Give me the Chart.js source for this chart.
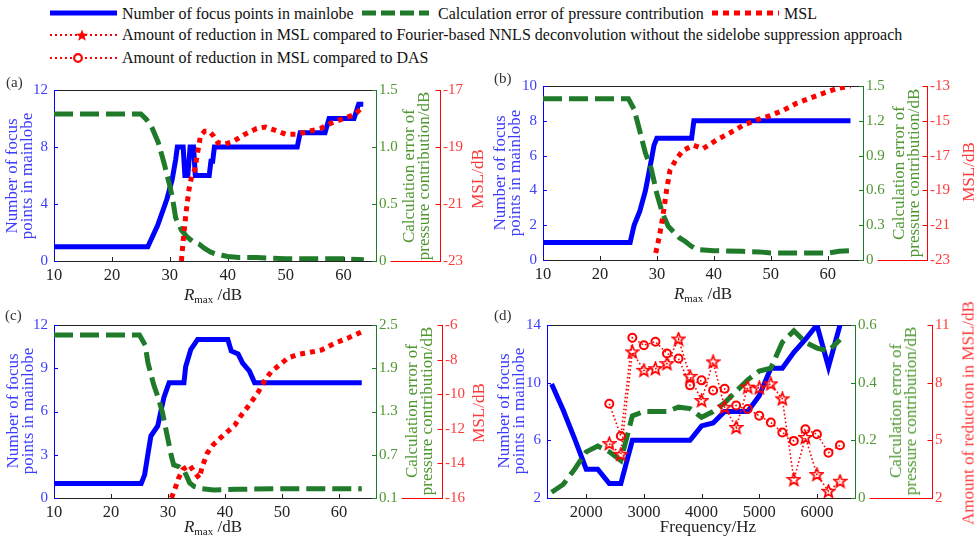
<!DOCTYPE html>
<html>
<head>
<meta charset="utf-8">
<script src="https://cdn.jsdelivr.net/npm/chart.js@4.4.1/dist/chart.umd.min.js"></script>
<style>
body { margin:0; background:#fff; width:976px; height:538px; position:relative; overflow:hidden; font-family:'Liberation Serif','Times New Roman',serif; }
canvas { position:absolute; }
.leg { position:absolute; font-size:16px; color:#111; transform:translateY(-50%); white-space:nowrap; }
.sw { position:absolute; }
.yt { position:absolute; font-size:17px; line-height:15px; text-align:center; white-space:nowrap; transform:translate(-50%,-50%) rotate(-90deg); }
.xt { position:absolute; font-size:17px; color:#222; white-space:nowrap; transform:translate(-50%,-50%); }
.xt sub { font-size:11px; vertical-align:-3px; }
.pl { position:absolute; font-size:15px; color:#333; }
.blue { color:#3c3cff; } .green { color:#4e9630; } .red { color:#ff3a3a; }
</style>
</head>
<body>

<!-- legend -->
<svg class="sw" style="left:50px;top:9px" width="67" height="8"><line x1="0" y1="4" x2="67" y2="4" stroke="#0000ff" stroke-width="5"/></svg>
<div class="leg" style="left:122px;top:14px">Number of focus points in mainlobe</div>
<svg class="sw" style="left:362px;top:9px" width="67" height="8"><line x1="0" y1="4" x2="67" y2="4" stroke="#1f7a2a" stroke-width="5" stroke-dasharray="14 5"/></svg>
<div class="leg" style="left:438px;top:14px">Calculation error of pressure contribution</div>
<svg class="sw" style="left:712px;top:9px" width="67" height="8"><line x1="0" y1="4" x2="67" y2="4" stroke="#ff0000" stroke-width="5" stroke-dasharray="6 5"/></svg>
<div class="leg" style="left:784px;top:14px">MSL</div>
<svg class="sw" style="left:50px;top:28px" width="67" height="14"><line x1="0" y1="7" x2="67" y2="7" stroke="#ff0000" stroke-width="1.8" stroke-dasharray="2 3"/><polygon points="32,1.5 33.6,5.6 38,5.8 34.6,8.5 35.8,12.7 32,10.3 28.2,12.7 29.4,8.5 26,5.8 30.4,5.6" fill="#ff0000"/></svg>
<div class="leg" style="left:122px;top:35px">Amount of reduction in MSL compared to Fourier-based NNLS deconvolution without the sidelobe suppression approach</div>
<svg class="sw" style="left:50px;top:51px" width="67" height="14"><line x1="0" y1="7" x2="67" y2="7" stroke="#ff0000" stroke-width="1.8" stroke-dasharray="2 3"/><circle cx="28" cy="7" r="3.8" fill="#fff" stroke="#ff0000" stroke-width="2.2"/></svg>
<div class="leg" style="left:122px;top:58px">Amount of reduction in MSL compared to DAS</div>

<canvas id="cA" width="490" height="230" style="left:0;top:80px"></canvas>
<canvas id="cB" width="486" height="230" style="left:490px;top:76px"></canvas>
<canvas id="cC" width="490" height="223" style="left:0;top:315px"></canvas>
<canvas id="cD" width="486" height="223" style="left:490px;top:315px"></canvas>

<div class="pl" style="left:6px;top:74px">(a)</div>
<div class="pl" style="left:494px;top:70px">(b)</div>
<div class="pl" style="left:5px;top:307px">(c)</div>
<div class="pl" style="left:494px;top:307px">(d)</div>

<div class="xt" style="left:213px;top:295px"><i>R</i><sub>max</sub> /dB</div>
<div class="xt" style="left:703px;top:294px"><i>R</i><sub>max</sub> /dB</div>
<div class="xt" style="left:213px;top:527px"><i>R</i><sub>max</sub> /dB</div>
<div class="xt" style="left:708px;top:527px">Frequency/Hz</div>

<div class="yt blue" style="left:19px;top:176px">Number of focus<br>points in mainlobe</div>
<div class="yt green" style="left:416px;top:176px">Calculation error of<br>pressure contribution/dB</div>
<div class="yt red" style="left:477px;top:179px">MSL/dB</div>

<div class="yt blue" style="left:507px;top:173px">Number of focus<br>points in mainlobe</div>
<div class="yt green" style="left:906px;top:173px">Calculation error of<br>pressure contribution/dB</div>
<div class="yt red" style="left:968px;top:172px">MSL/dB</div>

<div class="yt blue" style="left:20px;top:411px">Number of focus<br>points in mainlobe</div>
<div class="yt green" style="left:419px;top:411px">Calculation error of<br>pressure contribution/dB</div>
<div class="yt red" style="left:478px;top:413px">MSL/dB</div>

<div class="yt blue" style="left:511px;top:411px">Number of focus<br>points in mainlobe</div>
<div class="yt green" style="left:903px;top:411px">Calculation error of<br>pressure contribution/dB</div>
<div class="yt red" style="left:968px;top:413px">Amount of reduction in MSL/dB</div>

<script>
// ---- (a) ----
const focusA_x = [10, 26.2, 27.9, 29.5, 30.4, 31, 31.3, 32.3, 32.6, 33.1, 33.5, 34.1, 34.4, 36.8, 37.1, 37.4, 37.7, 52, 52.5, 56.8, 57.5, 61.8, 62.6, 63.4];
const focusA = [1, 1, 2.5, 4.35, 5.7, 7.1, 8, 8, 6, 6, 8, 8, 6, 6, 7, 7, 8, 8, 9, 9, 10, 10, 11, 11];
const errA_x = [10, 25, 26, 27, 28, 29, 30, 30.5, 31, 32, 33, 34, 35, 36, 37, 38, 39, 40, 42, 45, 50, 55, 60, 63.5];
const errA = [1.29, 1.29, 1.24, 1.16, 1.04, 0.86, 0.66, 0.54, 0.38, 0.27, 0.21, 0.17, 0.15, 0.11, 0.08, 0.06, 0.05, 0.04, 0.03, 0.03, 0.02, 0.02, 0.02, 0.01];
const mslA_x = [32, 32.3, 32.8, 33.3, 33.8, 34.3, 34.8, 35.3, 36, 36.8, 37.5, 38.3, 39.5, 41, 43, 45, 46.5, 48, 50, 52, 54, 56, 58, 60, 62, 63];
const mslA = [-23, -22.3, -21.3, -20.5, -20.0, -19.8, -19.2, -18.6, -18.45, -18.45, -18.6, -18.85, -18.9, -18.8, -18.55, -18.35, -18.3, -18.4, -18.55, -18.55, -18.45, -18.35, -18.15, -18.0, -17.85, -17.65];

// ---- (b) ----
const focusB_x = [10, 25.3, 26, 27, 28, 29, 29.5, 30, 36.1, 36.5, 64];
const focusB = [1, 1, 2, 2.8, 4, 5.7, 6.6, 7, 7, 8, 8];
const errB_x = [10, 25, 26, 27, 28, 29, 30, 31, 32, 33, 34, 35, 36, 37, 40, 45, 48, 50, 55, 60, 62, 64];
const errB = [1.39, 1.39, 1.30, 1.11, 0.92, 0.79, 0.57, 0.40, 0.29, 0.24, 0.19, 0.16, 0.12, 0.09, 0.08, 0.075, 0.07, 0.06, 0.06, 0.06, 0.075, 0.08];
const mslB_x = [29.8, 30.4, 31, 31.7, 32.3, 33.4, 34.6, 36.4, 38.1, 40.5, 42.8, 45.2, 47.5, 49.9, 52.2, 54.5, 56.9, 59.2, 61.6, 64];
const mslB = [-22.6, -21.7, -20.6, -19.0, -17.85, -17.2, -16.7, -16.4, -16.6, -16.1, -15.7, -15.25, -14.95, -14.7, -14.4, -14.0, -13.7, -13.42, -13.15, -13.0];

// ---- (c) ----
const focusC_x = [10, 25.3, 25.9, 26.5, 27, 28.2, 28.8, 29.3, 30.2, 32.8, 33.1, 34, 35.2, 40.5, 41.1, 42.3, 43.1, 44.3, 45.2, 64];
const focusC = [1, 1, 1.6, 3.1, 4.3, 5, 6.1, 7, 8, 8, 9.1, 10.3, 11, 11, 10.2, 10, 9.35, 8.8, 8, 8];
const errC_x = [10, 25, 26, 26.5, 27.5, 28.2, 29, 30, 30.6, 31, 32, 32.8, 33.3, 33.8, 34.6, 35.8, 38, 42, 50, 64];
const errC = [2.36, 2.36, 2.22, 1.97, 1.67, 1.51, 1.30, 0.91, 0.68, 0.56, 0.53, 0.48, 0.40, 0.31, 0.26, 0.23, 0.21, 0.22, 0.23, 0.23];
const mslC_x = [30.6, 31.2, 31.8, 32.6, 33.8, 34.6, 35.5, 36, 36.9, 38, 39.3, 40.5, 41.7, 42.9, 44.3, 45.8, 47, 48.1, 49.6, 51.1, 52.8, 54.6, 56.9, 59.3, 61.6, 64];
const mslC = [-16, -15.5, -14.9, -14.35, -14.1, -14.5, -14.85, -14.2, -13.4, -12.9, -12.5, -12.15, -11.8, -11.2, -10.6, -9.9, -9.2, -8.7, -8.3, -7.9, -7.7, -7.6, -7.45, -7.05, -6.75, -6.4];

// ---- (d) ----
const freqD = [1400, 1600, 1800, 2000, 2200, 2400, 2600, 2800, 3000, 3200, 3400, 3600, 3800, 4000, 4200, 4400, 4600, 4800, 5000, 5200, 5400, 5600, 5800, 6000, 6200, 6400];
const focusD = [9.9, 8.1, 6.1, 4.0, 4.0, 3.0, 3.0, 6.0, 6, 6, 6, 6, 6, 7.0, 7.2, 8.0, 8.0, 8.0, 9.1, 11.0, 11.0, 12.1, 13.0, 14, 11.1, 14];
const errD = [0.02, 0.047, 0.1, 0.16, 0.18, 0.16, 0.13, 0.285, 0.30, 0.30, 0.30, 0.315, 0.31, 0.28, 0.30, 0.33, 0.37, 0.41, 0.44, 0.45, 0.54, 0.58, 0.54, 0.52, 0.51, 0.55];
const freqRed = [2400, 2600, 2800, 3000, 3200, 3400, 3600, 3800, 4000, 4200, 4400, 4600, 4800, 5000, 5200, 5400, 5600, 5800, 6000, 6200, 6400];
const redNnls = [4.83, 4.27, 9.6, 8.64, 8.73, 8.99, 10.27, 8.33, 7.07, 9.08, 6.72, 5.67, 7.77, 7.73, 7.94, 7.16, 2.96, 5.15, 3.22, 2.35, 2.87];
const redDas = [6.9, 5.23, 10.34, 9.95, 10.13, 9.52, 9.26, 7.86, 8.12, 7.59, 7.68, 6.81, 6.63, 6.28, 5.93, 5.41, 4.97, 5.58, 5.32, 4.36, 4.74];

// tick labels
const rmaxTicks = [10, 20, 30, 40, 50, 60];
const freqTicks = [2000, 3000, 4000, 5000, 6000];
const focusTicksA = [0, 4, 8, 12], errTicksA = [0, 0.5, 1.0, 1.5], mslTicksA = [-23, -21, -19, -17];
const focusTicksB = [0, 2, 4, 6, 8, 10], errTicksB = [0, 0.3, 0.6, 0.9, 1.2, 1.5], mslTicksB = [-23, -21, -19, -17, -15, -13];
const focusTicksC = [0, 3, 6, 9, 12], errTicksC = [0.1, 0.7, 1.3, 1.9, 2.5], mslTicksC = [-16, -14, -12, -10, -8, -6];
const focusTicksD = [2, 6, 10, 14], errTicksD = [0, 0.2, 0.4, 0.6], redTicksD = [2, 5, 8, 11];

const BLUE = '#0000ff', GREEN = '#1f7a2a', RED = '#ff0000';
const FONT = "'Liberation Serif', 'Times New Roman', serif";
const tickFont = { family: FONT, size: 15 };
const xTickFont = { family: FONT, size: 16.5 };

function pts(xs, ys) { return xs.map((x, i) => ({ x: x, y: ys[i] })); }
function thick(xs, ys, axis, color, dash) {
  return { data: pts(xs, ys), yAxisID: axis, borderColor: color, borderWidth: 5, borderDash: dash, pointRadius: 0, fill: false };
}
const oneDec = v => (v === 0 ? '0' : v.toFixed(1));

function starImage() {
  const c = document.createElement('canvas');
  c.width = 15; c.height = 15;
  const g = c.getContext('2d');
  g.strokeStyle = RED; g.lineWidth = 1.7;
  g.beginPath();
  for (let i = 0; i < 10; i++) {
    const r = i % 2 ? 2.8 : 6.5, a = -Math.PI / 2 + i * Math.PI / 5;
    const px = 7.5 + r * Math.cos(a), py = 7.8 + r * Math.sin(a);
    if (i) g.lineTo(px, py); else g.moveTo(px, py);
  }
  g.closePath(); g.stroke();
  return c;
}

// box top, inward ticks, red base line
const axisDeco = {
  id: 'axisDeco',
  beforeDatasetsDraw(chart) {
    const { ctx, chartArea: a, scales } = chart;
    const line = (x1, y1, x2, y2, c) => { ctx.strokeStyle = c; ctx.beginPath(); ctx.moveTo(x1, y1); ctx.lineTo(x2, y2); ctx.stroke(); };
    const px = (s, v) => Math.round(s.getPixelForValue(v)) + 0.5;
    ctx.save();
    ctx.lineWidth = 1;
    line(a.left, Math.round(a.top) + 0.5, a.right, Math.round(a.top) + 0.5, '#222');
    scales.x.ticks.forEach(t => line(px(scales.x, t.value), a.bottom, px(scales.x, t.value), a.bottom - 4, '#222'));
    scales.yL.ticks.forEach(t => line(a.left, px(scales.yL, t.value), a.left + 4, px(scales.yL, t.value), BLUE));
    scales.yG.ticks.forEach(t => line(a.right, px(scales.yG, t.value), a.right - 4, px(scales.yG, t.value), GREEN));
    const r = scales.yR, rx = Math.round(r.left) + 0.5;
    r.ticks.forEach(t => line(rx, px(r, t.value), rx - 5, px(r, t.value), RED));
    ctx.font = '15px ' + FONT;
    const w = ctx.measureText(scales.yG.ticks[0].label).width;
    line(a.right + 4 + w + 3, Math.round(a.bottom) + 0.5, rx, Math.round(a.bottom) + 0.5, RED);
    ctx.restore();
  }
};

function yScale(pos, w, min, max, ticks, color, fmt, weight) {
  return {
    type: 'linear', position: pos, min: min, max: max, weight: weight,
    afterBuildTicks: s => { s.ticks = ticks.map(v => ({ value: v })); },
    afterFit: s => { s.width = w; s.paddingTop = 0; s.paddingBottom = 0; },
    grid: { display: false, drawTicks: false },
    border: { display: true, color: color, width: 1 },
    ticks: { color: color === BLUE ? '#3c3cff' : color === GREEN ? '#4e9630' : '#ff3a3a', font: tickFont, padding: pos === 'left' ? 6 : 3, autoSkip: false, callback: fmt }
  };
}

function panel(id, p) {
  new Chart(document.getElementById(id), {
    type: 'line',
    data: { datasets: p.sets },
    options: {
      responsive: false, animation: false, devicePixelRatio: 1,
      layout: { padding: { top: 10, left: 0, right: 0, bottom: 0 } },
      plugins: { legend: { display: false }, tooltip: { enabled: false } },
      elements: { line: { tension: 0 } },
      scales: {
        x: {
          type: 'linear', position: 'bottom', min: p.xMin, max: p.xMax,
          afterBuildTicks: s => { s.ticks = p.xTicks.map(v => ({ value: v })); },
          afterFit: s => { s.height = p.xH; s.paddingLeft = 0; s.paddingRight = 0; },
          grid: { display: false, drawTicks: false },
          border: { display: true, color: '#222', width: 1 },
          ticks: { color: '#222', font: xTickFont, padding: 5, maxRotation: 0, autoSkip: false, callback: v => String(v) }
        },
        yL: yScale('left', p.wL, p.yL[0], p.yL[p.yL.length - 1], p.yL, BLUE, v => String(v), 0),
        yG: yScale('right', p.wG, p.yG[0], p.yG[p.yG.length - 1], p.yG, GREEN, oneDec, 0),
        yR: yScale('right', p.wR, p.yR[0], p.yR[p.yR.length - 1], p.yR, RED, v => String(v), 1)
      }
    },
    plugins: [axisDeco]
  });
}

const dashG = [19, 7], dotR = [5, 5];

panel('cA', {
  xMin: 10, xMax: 65.6, xTicks: rmaxTicks, xH: 49, wL: 54, wG: 64, wR: 50,
  yL: focusTicksA, yG: errTicksA, yR: mslTicksA,
  sets: [thick(mslA_x, mslA, 'yR', RED, dotR), thick(errA_x, errA, 'yG', GREEN, dashG), thick(focusA_x, focusA, 'yL', BLUE, [])]
});
panel('cB', {
  xMin: 10, xMax: 66.2, xTicks: rmaxTicks, xH: 46, wL: 53, wG: 64, wR: 49,
  yL: focusTicksB, yG: errTicksB, yR: mslTicksB,
  sets: [thick(mslB_x, mslB, 'yR', RED, dotR), thick(errB_x, errB, 'yG', GREEN, dashG), thick(focusB_x, focusB, 'yL', BLUE, [])]
});
panel('cC', {
  xMin: 10, xMax: 66.5, xTicks: rmaxTicks, xH: 40, wL: 54, wG: 66, wR: 48,
  yL: focusTicksC, yG: errTicksC, yR: mslTicksC,
  sets: [thick(mslC_x, mslC, 'yR', RED, dotR), thick(errC_x, errC, 'yG', GREEN, dashG), thick(focusC_x, focusC, 'yL', BLUE, [])]
});

const star = starImage();
panel('cD', {
  xMin: 1320, xMax: 6660, xTicks: freqTicks, xH: 40, wL: 57, wG: 77, wR: 44,
  yL: focusTicksD, yG: errTicksD, yR: redTicksD,
  sets: [
    { data: pts(freqRed, redNnls), yAxisID: 'yR', borderColor: RED, borderWidth: 1.6, borderDash: [1.6, 2.4], pointStyle: star, pointRadius: 7, fill: false },
    { data: pts(freqRed, redDas), yAxisID: 'yR', borderColor: RED, borderWidth: 1.6, borderDash: [1.6, 2.4], pointStyle: 'circle', pointRadius: 4, pointBorderWidth: 2, pointBorderColor: RED, pointBackgroundColor: 'rgba(255,255,255,0)', fill: false },
    thick(freqD, errD, 'yG', GREEN, dashG),
    thick(freqD, focusD, 'yL', BLUE, [])
  ]
});
</script>
</body>
</html>
